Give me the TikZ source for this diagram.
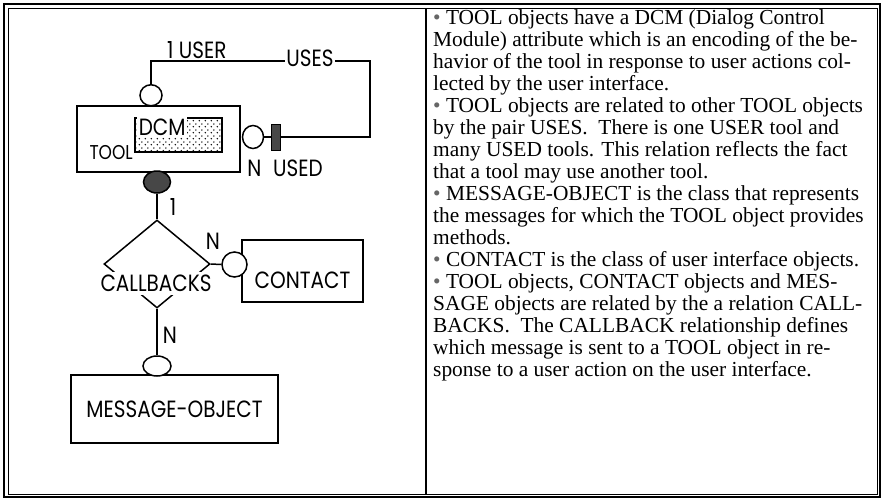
\documentclass[tikz,border=0pt]{standalone}
\usepackage{fontspec}
\setmainfont{Liberation Serif}
\newfontfamily\diagfont{Poppins}[FakeStretch=0.85]
\usetikzlibrary{positioning, shapes.geometric, patterns}

\newcommand{\notebullet}{{\color{black!60}\textbullet}}

% staggered coarse dots for the DCM attribute
\pgfdeclarepatternformonly{coarsedots}{\pgfpointorigin}{\pgfpoint{6pt}{6pt}}{\pgfpoint{6pt}{6pt}}{%
  \pgfpathcircle{\pgfpoint{1.5pt}{1.5pt}}{0.9pt}%
  \pgfpathcircle{\pgfpoint{4.5pt}{4.5pt}}{0.9pt}%
  \pgfusepath{fill}}

\tikzset{
  entity/.style={draw=black, line width=1.5pt, inner sep=0pt,
    font=\diagfont\fontsize{23.5}{25}\selectfont},
  port/.style={ellipse, draw=black, line width=1.5pt, fill=white, inner sep=0pt},
  solidport/.style={port, fill=black!72},
  usedbarbox/.style={draw=black, fill=black!72, inner sep=0pt,
    minimum width=9pt, minimum height=26pt},
  relation/.style={diamond, draw=black, line width=1.5pt, inner sep=0pt},
  link/.style={line width=1.5pt},
  rolelabel/.style={font=\diagfont\fontsize{23.5}{25}\selectfont, inner sep=1pt},
  attrbox/.style={draw=black, line width=1.2pt, pattern=coarsedots,
    pattern color=black, inner sep=0pt},
  framebox/.style={draw=black, line width=1.5pt},
  notes/.style={font=\fontsize{21.4}{22}\selectfont, align=left,
    inner sep=0pt, anchor=north west},
}

\begin{document}
\begin{tikzpicture}[x=1pt, y=-1pt]
  \useasboundingbox (0,0) rectangle (883,499);

  % ==================================================================
  % Frame and divider
  % ==================================================================
  \draw[framebox, line width=2pt] (4,4) rectangle (880,497);
  \draw[framebox, line width=1pt] (8,8) rectangle (877,494);
  \draw[framebox] (426,8) -- (426,494);

  % ==================================================================
  % Entities
  % ==================================================================
  \node[entity, minimum width=163pt, minimum height=66pt] (tool) at (158.5,139) {};
  \node[entity, minimum width=121pt, minimum height=62pt] (contact) at (302.5,271)
    {\raisebox{-9pt}[\height][\depth]{CONTACT}\hspace{8pt}};
  \node[entity, minimum width=207pt, minimum height=68pt] (msg) at (174.5,409) {MESSAGE-OBJECT};

  % DCM attribute of TOOL
  \node[attrbox, minimum width=87pt, minimum height=34pt] (dcm) at (178.5,135) {};
  \node[rolelabel, fill=white, anchor=north west, inner sep=0pt,
        minimum width=50pt, minimum height=20pt] (dcmlbl) at (137,117) {DCM};
  \node[rolelabel, font=\diagfont\fontsize{20}{22}\selectfont, anchor=south east]
    (toollbl) at (134,161) {TOOL};

  % ==================================================================
  % Relation CALLBACKS
  % ==================================================================
  \node[relation, minimum width=106pt, minimum height=88pt] (cb) at (157,264) {};
  \node[rolelabel, fill=white, inner sep=1pt, minimum height=23pt] (cblbl) at (156,283) {CALLBACKS};

  % ----------------------------------------------------------------
  % Ports
  % ----------------------------------------------------------------
  \node[port, minimum width=22pt, minimum height=21pt, anchor=south] (userport) at (151,106.5) {};
  \node[port, minimum width=21pt, minimum height=23pt] (usedport) at (253,137) {};
  \node[usedbarbox] (usedbar) at (275.5,137) {};
  \node[solidport, minimum width=27pt, minimum height=22pt] (toolport) at (157,182) {};
  \node[port, minimum width=25pt, minimum height=25pt] (contactport) at (234.5,264.5) {};
  \node[port, minimum width=28pt, minimum height=20pt] (msgport) at (157,366) {};

  % ----------------------------------------------------------------
  % USES loop
  % ----------------------------------------------------------------
  \node[rolelabel] (uses) at (310,58) {USES};
  \coordinate (usescorner) at (370,61);
  \node[rolelabel, anchor=base west] (userlbl) at (166,58) {1 USER};
  \node[rolelabel] (usedlbl) at (285,168) {N\enspace USED};

  \draw[link] (userport.north) |- ([yshift=-3pt]uses.west);
  \draw[link] ([yshift=-3pt]uses.east) -- (usescorner) |- (usedbar.east);
  \draw[link] (usedport.east) -- (usedbar.west);

  % ----------------------------------------------------------------
  % CALLBACKS links
  % ----------------------------------------------------------------
  \draw[link] (toolport.south) -- (cb.north);
  \draw[link] (cb.east) -- (contactport.west);
  \draw[link] (cb.south) -- (msgport.north);

  \node[rolelabel] (toolcard) at (173,207) {1};
  \node[rolelabel] (contactcard) at (213,241) {N};
  \node[rolelabel] (msgcard) at (170,335) {N};

  % ==================================================================
  % Notes
  % ==================================================================
  \node[notes] (notes) at (433,9) {%
    \notebullet{} TOOL objects have a DCM (Dialog Control\\
    Module) attribute which is an encoding of the be-\\
    havior of the tool in response to user actions col-\\
    lected by the user interface.\\
    \notebullet{} TOOL objects are related to other TOOL objects\\
    by the pair USES.\ \ There is one USER tool and\\
    many USED tools. This relation reflects the fact\\
    that a tool may use another tool.\\
    \notebullet{} MESSAGE-OBJECT is the class that represents\\
    the messages for which the TOOL object provides\\
    methods.\\
    \notebullet{} CONTACT is the class of user interface objects.\\
    \notebullet{} TOOL objects, CONTACT objects and MES-\\
    SAGE objects are related by the a relation CALL-\\
    BACKS.\ \ The CALLBACK relationship defines\\
    which message is sent to a TOOL object in re-\\
    sponse to a user action on the user interface.};

\end{tikzpicture}
\end{document}
